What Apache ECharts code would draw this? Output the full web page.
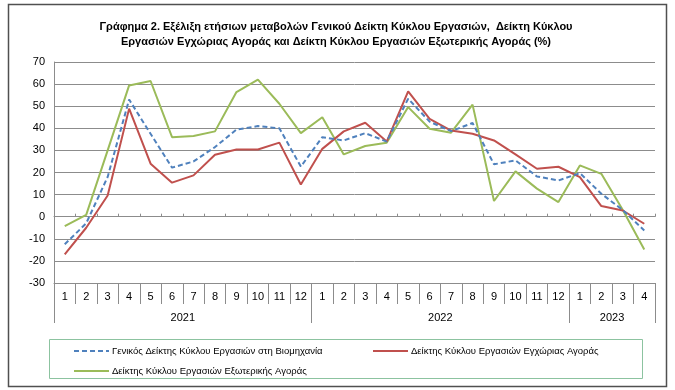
<!DOCTYPE html>
<html>
<head>
<meta charset="utf-8">
<script src="https://cdn.jsdelivr.net/npm/echarts@6/dist/echarts.min.js"></script>
<style>
html,body{margin:0;padding:0;background:#fff;}
#c{width:675px;height:390px;}
</style>
</head>
<body>
<div id="c"></div>
<script>
var months = ['1','2','3','4','5','6','7','8','9','10','11','12','1','2','3','4','5','6','7','8','9','10','11','12','1','2','3','4'];
var years = ['2021','2022','2023'];
var yearCenters = [6, 18, 26];
var yearBounds = [0, 12, 24, 28];
var seriesNames = ['Γενικός Δείκτης Κύκλου Εργασιών στη Βιομηχανία', 'Δείκτης Κύκλου Εργασιών Εγχώριας Αγοράς', 'Δείκτης Κύκλου Εργασιών Εξωτερικής Αγοράς'];
var generalIndex = [-12.5, -3, 18, 53, 37.5, 22.2, 25, 31.5, 39.4, 41, 40, 22.7, 36, 34.5, 37.8, 34, 53.4, 43, 38.7, 42.4, 23.7, 25.5, 18.2, 16.4, 19.7, 10.4, 3, -6.2];
var domesticIndex = [-17, -5, 9.6, 48.9, 24, 15.4, 18.7, 28, 30.4, 30.4, 33.5, 14.6, 30.7, 38.6, 42.5, 34, 56.7, 44.3, 39, 37.5, 34.5, 28.2, 21.7, 22.6, 17.9, 4.8, 2.8, -3.2];
var foreignIndex = [-4.3, 0.8, 30, 59.4, 61.4, 36, 36.5, 38.6, 56.4, 62, 51.1, 37.8, 45, 28.2, 32, 33.5, 49.6, 39.8, 38, 50.7, 7.1, 20.5, 12.7, 6.6, 23.2, 19.4, 3, -14.8];

var FONT = '"Liberation Sans", Arial, sans-serif';
var GRID = '#8c8c8c';
var chart = echarts.init(document.getElementById('c'), null, {renderer: 'canvas'});
function legendItem(name, left, top) {
  return {
    data: [name], left: left, top: top, orient: 'horizontal', padding: 0,
    itemWidth: 35, itemHeight: 8, itemGap: 4,
    itemStyle: {opacity: 0},
    textStyle: {fontFamily: FONT, fontSize: 9.5, color: '#000', padding: [0, 0, 0, -2]}
  };
}
chart.setOption({
  animation: false,
  title: {
    text: 'Γράφημα 2. Εξέλιξη ετήσιων μεταβολών Γενικού Δείκτη Κύκλου Εργασιών,  Δείκτη Κύκλου\nΕργασιών Εγχώριας Αγοράς και Δείκτη Κύκλου Εργασιών Εξωτερικής Αγοράς (%)',
    left: 331, top: 14, textAlign: 'center',
    textStyle: {fontFamily: FONT, fontSize: 11, fontWeight: 'bold', color: '#000', lineHeight: 15}
  },
  legend: [
    legendItem(seriesNames[0], 73, 346),
    legendItem(seriesNames[1], 372, 346),
    legendItem(seriesNames[2], 73, 366)
  ],
  grid: {left: 54, right: 20, top: 62, bottom: 107, containLabel: false},
  xAxis: [
    {
      type: 'category', data: months, position: 'bottom', boundaryGap: true,
      axisLine: {onZero: false, lineStyle: {color: GRID, width: 1}},
      axisTick: {show: true, interval: 0, length: 21, lineStyle: {color: GRID}},
      axisLabel: {interval: 0, margin: 8, fontFamily: FONT, fontSize: 11, color: '#000'},
      splitLine: {show: false}
    },
    {
      type: 'category', data: months, position: 'top', boundaryGap: true,
      axisLine: {onZero: true, lineStyle: {color: GRID, width: 1}},
      axisTick: {show: true, interval: 0, length: 3, lineStyle: {color: GRID}},
      axisLabel: {show: false}, splitLine: {show: false}
    },
    {
      type: 'value', min: 0, max: 28, position: 'bottom',
      axisLine: {show: false, onZero: false},
      axisTick: {show: true, customValues: yearBounds, length: 40, lineStyle: {color: GRID}},
      axisLabel: {show: true, customValues: yearCenters, margin: 29, fontFamily: FONT, fontSize: 11, color: '#000',
        formatter: function (v) { return years[yearCenters.indexOf(v)]; }},
      splitLine: {show: false}
    }
  ],
  yAxis: {
    type: 'value', min: -30, max: 70, interval: 10,
    axisLine: {show: true, lineStyle: {color: GRID, width: 1}},
    axisTick: {show: false},
    axisLabel: {margin: 9, fontFamily: FONT, fontSize: 11, color: '#000'},
    splitLine: {show: true, lineStyle: {color: GRID, width: 1}}
  },
  graphic: [
    {type: 'rect', shape: {x: 8.5, y: 4.5, width: 658, height: 382}, style: {fill: null, stroke: '#505050', lineWidth: 1.5}, silent: true},
    {type: 'rect', shape: {x: 49.5, y: 339.5, width: 593, height: 39}, style: {fill: null, stroke: '#8cc3a0', lineWidth: 1}, silent: true}
  ],
  series: [
    {name: seriesNames[0], type: 'line', data: generalIndex, symbol: 'none', xAxisIndex: 0,
      lineStyle: {color: '#4f81bd', width: 2, type: [5, 3]}, itemStyle: {color: '#4f81bd'}, z: 4},
    {name: seriesNames[1], type: 'line', data: domesticIndex, symbol: 'none', xAxisIndex: 0,
      lineStyle: {color: '#c0504d', width: 2}, itemStyle: {color: '#c0504d'}, z: 3},
    {name: seriesNames[2], type: 'line', data: foreignIndex, symbol: 'none', xAxisIndex: 0,
      lineStyle: {color: '#9bbb59', width: 2}, itemStyle: {color: '#9bbb59'}, z: 2}
  ]
});
</script>
</body>
</html>
